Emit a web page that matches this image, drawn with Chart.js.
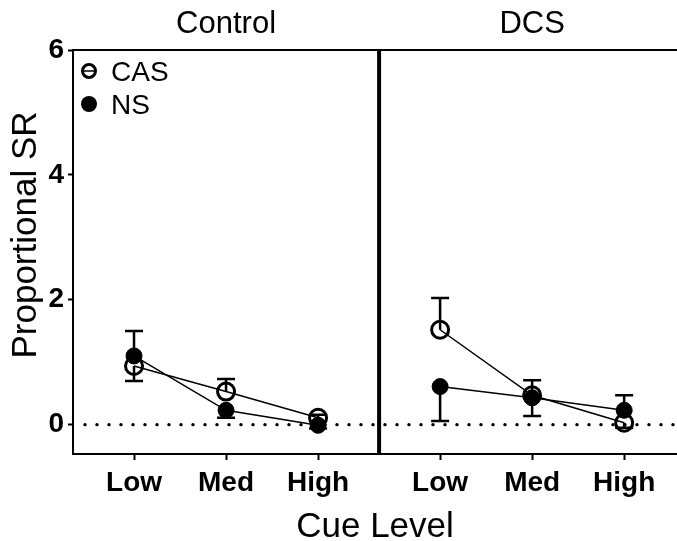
<!DOCTYPE html>
<html>
<head>
<meta charset="utf-8">
<script src="https://cdn.jsdelivr.net/npm/chart.js@4/dist/chart.umd.min.js"></script>
<style>
  html, body { margin: 0; padding: 0; background: #fff; }
  #wrap { width: 677px; height: 541px; }
</style>
</head>
<body>
<div id="wrap"><canvas id="myChart" width="677" height="541"></canvas></div>
<script>
// data
var categories = ['Low', 'Med', 'High'];
var groups = ['Control', 'DCS'];
var seriesNames = ['CAS', 'NS'];

var casControl = [0.94, 0.53, 0.11];
var casControlErr = [0.24, 0.20, 0.05];
var casControlDir = [-1, 1, 1];
var nsControl = [1.10, 0.23, -0.01];
var nsControlErr = [0.40, 0.12, 0.05];
var nsControlDir = [1, -1, -1];

var casDcs = [1.52, 0.47, 0.03];
var casDcsErr = [0.51, 0.24, 0.08];
var casDcsDir = [1, 1, -1];
var nsDcs = [0.61, 0.43, 0.23];
var nsDcsErr = [0.55, 0.29, 0.24];
var nsDcsDir = [-1, -1, 1];

var yTicks = [0, 2, 4, 6];

// layout of the two panels on one linear x axis
var panelWidth = 3.326;
var xMin = -0.663;
var xMax = 5.9;
var FONT = "'Liberation Sans', Arial, sans-serif";

var xTickPos = [];
var xTickLabels = [];
groups.forEach(function (g, gi) {
    categories.forEach(function (c, ci) {
        xTickPos.push(ci + gi * panelWidth);
        xTickLabels.push(c);
    });
});

function pts(vals, gi) {
    return vals.map(function (v, i) { return { x: i + gi * panelWidth, y: v }; });
}

function openSet(vals, err, dir, gi) {
    return {
        label: seriesNames[0],
        data: pts(vals, gi),
        err: err, dir: dir,
        borderColor: '#000',
        borderWidth: 1.5,
        pointRadius: 8.5,
        pointBorderWidth: 3,
        pointBorderColor: '#000',
        pointBackgroundColor: 'rgba(0,0,0,0)',
        showLine: true
    };
}
function filledSet(vals, err, dir, gi) {
    return {
        label: seriesNames[1],
        data: pts(vals, gi),
        err: err, dir: dir,
        borderColor: '#000',
        borderWidth: 1.5,
        pointRadius: 8,
        pointBorderWidth: 1,
        pointBorderColor: '#000',
        pointBackgroundColor: '#000',
        showLine: true
    };
}

var extras = {
    id: 'extras',
    beforeDatasetsDraw: function (chart) {
        var ctx = chart.ctx, a = chart.chartArea;
        var xs = chart.scales.x, ys = chart.scales.y;
        ctx.save();
        // dotted zero line
        var y0 = ys.getPixelForValue(0);
        ctx.fillStyle = '#000';
        for (var x = a.left + 12; x < a.right; x += 12) {
            ctx.beginPath();
            ctx.arc(x, y0, 1.7, 0, Math.PI * 2);
            ctx.fill();
        }
        // one-sided error bars
        ctx.strokeStyle = '#000';
        ctx.lineWidth = 2.5;
        chart.data.datasets.forEach(function (ds) {
            ds.data.forEach(function (p, i) {
                var px = xs.getPixelForValue(p.x);
                var py = ys.getPixelForValue(p.y);
                var pe = ys.getPixelForValue(p.y + ds.dir[i] * ds.err[i]);
                ctx.beginPath();
                ctx.moveTo(px, py); ctx.lineTo(px, pe);
                ctx.moveTo(px - 9, pe); ctx.lineTo(px + 9, pe);
                ctx.stroke();
            });
        });
        ctx.restore();
    },
    afterDraw: function (chart) {
        var ctx = chart.ctx, a = chart.chartArea;
        var xs = chart.scales.x;
        ctx.save();
        ctx.strokeStyle = '#000';
        ctx.fillStyle = '#000';
        // top frame line
        ctx.lineWidth = 2;
        ctx.beginPath();
        ctx.moveTo(a.left - 1, a.top); ctx.lineTo(a.right, a.top);
        ctx.stroke();
        // panel divider
        var xd = xs.getPixelForValue(panelWidth + xMin);
        ctx.lineWidth = 4;
        ctx.beginPath();
        ctx.moveTo(xd, a.top); ctx.lineTo(xd, a.bottom);
        ctx.stroke();
        // panel titles
        ctx.font = '31px ' + FONT;
        ctx.textAlign = 'center';
        ctx.textBaseline = 'alphabetic';
        groups.forEach(function (g, gi) {
            ctx.fillText(g, xs.getPixelForValue(1 + gi * panelWidth), 33);
        });
        // axis titles
        ctx.font = '35px ' + FONT;
        ctx.fillText('Cue Level', (a.left + a.right) / 2, 537);
        ctx.save();
        ctx.translate(36, 235);
        ctx.rotate(-Math.PI / 2);
        ctx.fillText('Proportional SR', 0, 0);
        ctx.restore();
        // legend
        ctx.lineWidth = 3;
        ctx.beginPath();
        ctx.arc(89, 71, 6.5, 0, Math.PI * 2);
        ctx.stroke();
        ctx.lineWidth = 1.5;
        ctx.beginPath();
        ctx.moveTo(83, 71); ctx.lineTo(95, 71);
        ctx.stroke();
        ctx.beginPath();
        ctx.arc(89, 104, 8, 0, Math.PI * 2);
        ctx.fill();
        ctx.font = '28px ' + FONT;
        ctx.textAlign = 'left';
        ctx.fillText(seriesNames[0], 111, 81);
        ctx.fillText(seriesNames[1], 111, 114);
        ctx.restore();
    }
};

var ctx = document.getElementById('myChart').getContext('2d');
var myChart = new Chart(ctx, {
    type: 'scatter',
    data: {
        datasets: [
            openSet(casControl, casControlErr, casControlDir, 0),
            openSet(casDcs, casDcsErr, casDcsDir, 1),
            filledSet(nsControl, nsControlErr, nsControlDir, 0),
            filledSet(nsDcs, nsDcsErr, nsDcsDir, 1)
        ]
    },
    options: {
        responsive: false,
        animation: false,
        layout: { autoPadding: false, padding: { top: 50, right: 0, left: 0, bottom: 0 } },
        scales: {
            x: {
                type: 'linear',
                min: xMin,
                max: xMax,
                afterBuildTicks: function (s) {
                    s.ticks = xTickPos.map(function (v) { return { value: v }; });
                },
                afterFit: function (s) { s.height = 87; },
                ticks: {
                    color: '#000',
                    font: { family: FONT, size: 28, weight: 'bold' },
                    padding: 6,
                    maxRotation: 0,
                    callback: function (v, i) { return xTickLabels[i]; }
                },
                grid: { drawOnChartArea: false, drawTicks: true, tickLength: 6, tickWidth: 2, tickColor: '#000' },
                border: { color: '#000', width: 2 }
            },
            y: {
                min: -0.47,
                max: 6,
                afterBuildTicks: function (s) {
                    s.ticks = yTicks.map(function (v) { return { value: v }; });
                },
                afterFit: function (s) { s.width = 73; },
                ticks: {
                    color: '#000',
                    font: { family: FONT, size: 28, weight: 'bold' },
                    padding: 4
                },
                grid: { drawOnChartArea: false, drawTicks: true, tickLength: 5, tickWidth: 2, tickColor: '#000' },
                border: { color: '#000', width: 2 }
            }
        },
        plugins: {
            legend: { display: false },
            tooltip: { enabled: false }
        }
    },
    plugins: [extras]
});
</script>
</body>
</html>
